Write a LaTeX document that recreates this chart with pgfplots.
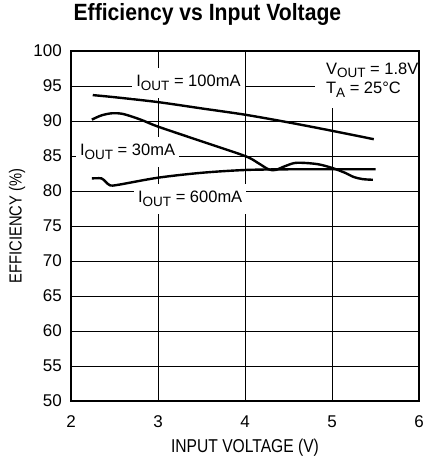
\documentclass[border=0pt]{standalone}
\usepackage{fontspec}
\setmainfont{Liberation Sans}
\newfontfamily\condfont{Liberation Sans}[FakeStretch=0.84]
\newfontfamily\titlefont{Liberation Sans}[FakeStretch=0.9]
\usepackage{pgfplots}
\pgfplotsset{compat=1.18}

% subscript as in the data sheet
\newcommand{\sub}[1]{\raisebox{-3.5pt}{\fontsize{13.5}{13.5}\selectfont #1}}

\begin{document}
\begin{tikzpicture}
\begin{axis}[
    scale only axis,
    width=348pt, height=350pt,
    xmin=2, xmax=6, ymin=50, ymax=100,
    xtick={2,3,4,5,6},
    ytick={50,55,...,100},
    grid=major,
    major grid style={black, line width=0.7pt},
    major tick length=0pt,
    axis line style={black, line width=1.3pt},
    /pgf/number format/assume math mode=true,
    ticklabel style={font=\fontsize{17}{17}\selectfont, inner sep=0pt},
    xticklabel style={anchor=base, yshift=-26pt},
    yticklabel style={anchor=east, xshift=-9pt},
    xlabel={INPUT VOLTAGE (V)},
    xlabel style={at={(axis description cs:0.5,-0.1477)}, anchor=base,
        font=\condfont\fontsize{18.6}{18.6}\selectfont, inner sep=0pt},
    ylabel={EFFICIENCY (\%)},
    ylabel style={at={(axis description cs:-0.1417,0.5)}, anchor=base,
        font=\condfont\fontsize{17.5}{17.5}\selectfont, inner sep=0pt},
    title={Efficiency vs Input Voltage},
    title style={at={(axis description cs:0.392,1.0694)}, anchor=base,
        font=\titlefont\bfseries\fontsize{23.5}{23.5}\selectfont, inner sep=0pt},
    clip=false,
]
\coordinate (o) at (rel axis cs:0,0);
\tikzset{curve/.style={black, line width=2.4pt, smooth, tension=0.5, mark=none}}

% IOUT = 100mA
\addplot[curve] coordinates {
    (2.25,93.7) (2.5,93.4) (3,92.7) (3.5,91.8) (4,90.9)
    (4.5,89.8) (5,88.6) (5.48,87.4)
};
% IOUT = 30mA
\addplot[curve] coordinates {
    (2.24,90.2) (2.35,90.8) (2.47,91.1) (2.6,91.0) (2.8,90.2)
    (3,89.2) (3.5,87.1) (4,85.0) (4.15,84.0) (4.27,83.1) (4.35,83.0)
    (4.45,83.5) (4.57,84.0) (4.7,84.0) (4.85,83.8) (5.0,83.3)
    (5.15,82.6) (5.25,82.0) (5.35,81.7) (5.47,81.6)
};
% IOUT = 600mA
\addplot[curve] coordinates {
    (2.24,81.8) (2.35,81.8) (2.4,81.3) (2.45,80.8) (2.55,80.9)
    (3,81.9) (3.5,82.6) (4,83.0) (4.5,83.1) (5,83.1) (5.5,83.1)
};

\tikzset{lbl/.style={fill=white, anchor=base, inner xsep=4pt, inner ysep=7pt,
    font=\fontsize{16.5}{16.5}\selectfont}}
\node[lbl] at (axis cs:3.35,94.86) {I\sub{OUT} = 100mA};
\node[lbl] at (axis cs:2.65,85.0) {I\sub{OUT} = 30mA};
\node[lbl] at (axis cs:3.37,78.3) {I\sub{OUT} = 600mA};

\fill[white] (axis cs:4.8,99.85) rectangle (axis cs:5.985,91.9);
\node[anchor=base west, inner sep=0pt, font=\fontsize{16.5}{16.5}\selectfont]
    at (axis cs:4.93,96.7) {V\sub{OUT} = 1.8V};
\node[anchor=base west, inner sep=0pt, font=\fontsize{16.5}{16.5}\selectfont]
    at (axis cs:4.93,93.86) {T\sub{A} = 25°C};
\end{axis}
\path (o) ++(-71pt,-59pt) rectangle ++(427pt,460pt);
\end{tikzpicture}
\end{document}
